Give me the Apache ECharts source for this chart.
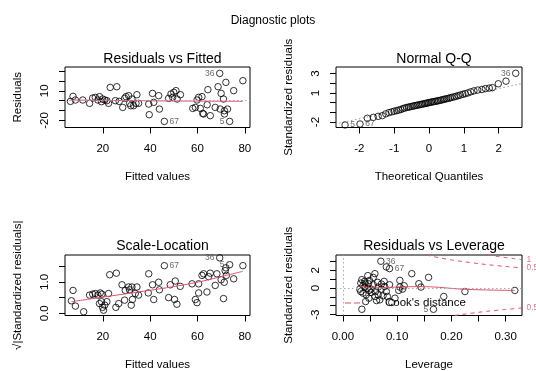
<!DOCTYPE html>
<html><head><meta charset="utf-8">
<script src="https://cdn.jsdelivr.net/npm/echarts@6/dist/echarts.min.js"></script>
<style>html,body{margin:0;padding:0;background:#fff}#c{width:536px;height:371px}</style>
</head><body><div id="c"></div>
<script>
// ---------- Panel 1: Residuals vs Fitted ----------
const fittedRF = [6.3,7.4,8.4,11.5,14.4,15.7,16.8,17.9,18.6,19.4,19.9,20.8,21.7,22.4,23.1,25.9,25.3,26.9,28.4,29.2,29.8,30.9,31.3,31.8,32.3,33.0,34.0,34.4,35.1,39.6,39.4,41.0,41.5,43.6,43.9,46.0,47.8,48.8,50.0,50.9,51.4,52.8,49.5,58.0,59.1,59.8,60.5,61.2,61.9,62.2,62.6,64.1,64.4,65.4,67.5,68.7,69.4,69.6,70.0,71.0,71.4,72.0,71.4,72.7,73.6,75.3,79.2];
const residRF = [-0.7,4.4,0.7,0.7,-2.7,2.7,3.4,0.7,4.1,-1.0,1.7,0.7,0.0,-2.7,13.5,14.2,0.0,-0.7,-6.8,2.4,4.1,5.1,-2.7,-5.1,1.7,-5.1,-2.7,6.1,-2.7,-14.2,-3.4,7.4,-1.7,5.1,-8.5,-21.0,2.4,6.8,8.5,10.2,1.7,6.1,3.4,-7.8,-6.8,0.7,3.4,-7.8,4.1,-12.9,-13.5,-4.1,11.2,-15.2,-6.8,14.2,27.7,-8.5,7.4,1.7,-10.2,18.6,-13.5,-8.5,-21.0,10.2,20.3];
const smoothRF = [[6.3,0.7],[25,0.2],[45,-0.2],[65,-0.5],[79.2,-0.6]];
const idsRF = [[56,'36'],[35,'67'],[64,'5']];
const xTicksRF = [20,40,60,80], yTicksRF = [-20,-10,0,10,20,30], yLabelsRF = [-20,10];

// ---------- Panel 2: Normal Q-Q ----------
const theoQ = [-2.41,-1.98,-1.77,-1.60,-1.46,-1.34,-1.24,-1.15,-1.07,-1.00,-0.93,-0.87,-0.81,-0.75,-0.70,-0.64,-0.59,-0.54,-0.49,-0.44,-0.40,-0.35,-0.31,-0.26,-0.22,-0.18,-0.13,-0.09,-0.05,-0.01,0.03,0.07,0.11,0.15,0.20,0.24,0.28,0.33,0.37,0.42,0.46,0.51,0.56,0.61,0.66,0.72,0.78,0.84,0.90,0.97,1.04,1.12,1.20,1.29,1.40,1.52,1.62,1.73,1.82,1.99,2.21,2.49];
const stdResQ = [-2.30,-2.20,-1.61,-1.51,-1.41,-1.34,-1.15,-1.02,-0.95,-0.88,-0.82,-0.76,-0.70,-0.62,-0.55,-0.50,-0.46,-0.42,-0.38,-0.34,-0.30,-0.27,-0.24,-0.20,-0.17,-0.14,-0.10,-0.07,-0.04,0.00,0.03,0.06,0.09,0.12,0.15,0.18,0.21,0.25,0.29,0.33,0.37,0.41,0.45,0.50,0.55,0.60,0.66,0.72,0.79,0.86,0.93,1.01,1.12,1.22,1.30,1.36,1.45,1.50,1.55,1.95,2.22,3.03];
const qqLine = [[-2.8,-2.28],[2.8,2.08]];
const idsQ = [[0,'5'],[1,'67'],[61,'36']];
const xTicksQ = [-2,-1,0,1,2], yTicksQ = [-2,-1,0,1,2,3], yLabelsQ = [-2,1,3];

// ---------- Panel 3: Scale-Location ----------
const fittedSL = [6.7,7.4,8.4,11.9,14.4,15.7,16.8,17.9,18.6,18.9,19.4,19.6,19.9,20.3,20.8,21.7,22.4,22.9,25.7,25.5,26.7,28.1,29.2,29.5,30.9,31.3,32.0,32.3,32.5,33.7,34.4,35.1,39.4,39.2,41.0,41.5,43.6,43.9,46.0,47.8,48.5,50.3,50.6,51.3,52.7,57.7,59.1,59.8,60.5,60.5,61.9,62.6,64.0,64.7,65.4,67.5,68.2,69.4,70.0,71.0,71.3,71.7,72.2,72.0,73.6,75.3,79.2];
const sqrtStdSL = [0.40,0.73,0.23,0.05,0.58,0.61,0.63,0.58,0.31,0.65,0.37,0.61,0.19,0.10,0.26,0.37,0.63,1.23,1.28,0.19,0.31,0.91,0.42,0.73,0.84,0.75,0.26,0.84,0.44,0.63,0.84,0.58,1.26,0.65,0.91,0.44,0.99,0.75,1.52,0.50,0.91,0.44,1.03,0.29,0.86,0.94,0.44,0.34,0.94,0.65,1.21,1.26,0.68,1.17,1.28,0.89,1.26,1.77,1.07,0.47,0.99,1.36,1.21,1.45,1.55,1.10,1.52];
const smoothSL = [[6.7,0.37],[20.3,0.52],[35,0.68],[49,0.84],[60.5,1.0],[69,1.15],[79.2,1.34]];
const idsSL = [[38,'67'],[57,'36'],[64,'5']];
const xTicksSL = [20,40,60,80], yTicksSL = [0,0.5,1,1.5], yLabelsSL = [0,1];

// ---------- Panel 4: Residuals vs Leverage ----------
const leverageRL = [0.070,0.080,0.086,0.035,0.167,0.127,0.158,0.105,0.140,0.144,0.105,0.110,0.103,0.113,0.186,0.225,0.317,0.096,0.059,0.046,0.056,0.064,0.071,0.077,0.086,0.040,0.033,0.037,0.031,0.033,0.037,0.043,0.042,0.048,0.052,0.056,0.049,0.045,0.060,0.065,0.062,0.068,0.074,0.080,0.071,0.035,0.041,0.047,0.065,0.076,0.059,0.052,0.082,0.090,0.040,0.048];
const stdResRL = [3.01,2.37,2.18,-2.40,-2.40,1.61,1.19,0.85,0.48,0.10,0.10,-0.13,-0.28,0.25,-0.96,-0.40,-0.28,-1.15,1.61,1.39,1.19,0.63,0.44,0.17,0.36,0.74,0.55,0.25,-0.13,-0.40,-0.58,-0.77,-1.53,-1.15,-0.13,0.36,0.85,-0.02,-0.40,-0.77,-1.42,-1.34,-0.89,-0.40,-0.13,0.93,0.55,0.48,0.10,0.74,-0.96,-0.51,-0.96,-1.64,0.10,-0.28];
const smoothRL = [[0.031,0.2],[0.06,0.02],[0.1,0.1],[0.14,0.15],[0.17,0.1],[0.225,-0.15],[0.317,-0.28]];
const cookUp05 = [[0.154,3.71],[0.16,3.62],[0.18,3.37],[0.2,3.16],[0.22,2.98],[0.25,2.74],[0.27,2.60],[0.3,2.42],[0.33,2.25]];
const cookUp1 = [[0.267,3.71],[0.285,3.54],[0.3,3.42],[0.315,3.30],[0.33,3.19]];
const cookLo05 = [[0.206,-3.10],[0.22,-2.98],[0.25,-2.74],[0.27,-2.60],[0.3,-2.42],[0.33,-2.25]];
const cookLabels = [[0.3385,3.19,'1'],[0.3385,2.25,'0.5'],[0.3385,-2.25,'0.5']];
const idsRL = [[0,'36'],[2,'67'],[4,'5']];
const xTicksRL = [0,0.05,0.1,0.15,0.2,0.25,0.3], xLabelsRL = [0,0.1,0.2,0.3], yTicksRL = [-3,-2,-1,0,1,2,3], yLabelsRL = [-3,0,2];

// ---------- build ----------
const FONT = "'Liberation Sans', Arial, Helvetica, sans-serif";
const RED = '#DF536B';
const TXT = {color:'#000', fontFamily:FONT, fontSize:11.5};

const gridsPx = [
  {left:65, top:67, width:185, height:60.5},
  {left:336, top:67, width:186, height:60.5},
  {left:65, top:255, width:185, height:60.5},
  {left:336, top:255, width:186, height:60.5}
];
const grid = gridsPx.map(g => Object.assign({show:true, borderColor:'#000', borderWidth:1, backgroundColor:'rgba(0,0,0,0)', containLabel:false, outerBoundsMode:'none'}, g));

function xAx(gi, min, max, ticks, labels, fmt, name){
  return {type:'value', gridIndex:gi, min:min, max:max, name:name, nameLocation:'middle', nameGap:43,
    nameTextStyle:Object.assign({}, TXT),
    axisLine:{show:false, onZero:false}, splitLine:{show:false},
    axisTick:{show:true, customValues:ticks, length:6, lineStyle:{color:'#000', width:1}},
    axisLabel:Object.assign({customValues:labels, formatter:fmt, margin:15}, TXT)};
}
function yAx(gi, min, max, ticks, labels, fmt, name){
  return {type:'value', gridIndex:gi, min:min, max:max, name:name, nameLocation:'middle', nameGap:41, nameRotate:90,
    nameTextStyle:Object.assign({}, TXT),
    axisLine:{show:false, onZero:false}, splitLine:{show:false},
    axisTick:{show:true, customValues:ticks, length:6, lineStyle:{color:'#000', width:1}},
    axisLabel:Object.assign({customValues:labels, formatter:fmt, rotate:90, margin:14}, TXT)};
}
const f0 = v => String(v);
const f1 = v => v.toFixed(1);
const f2 = v => v.toFixed(2);

const xAxis = [
  xAx(0, 4.0, 82.2, xTicksRF, xTicksRF, f0, 'Fitted values'),
  xAx(1, -2.67, 2.67, xTicksQ, xTicksQ, f0, 'Theoretical Quantiles'),
  xAx(2, 4.0, 82.2, xTicksSL, xTicksSL, f0, 'Fitted values'),
  xAx(3, -0.0127, 0.3302, xTicksRL, xLabelsRL, f2, 'Leverage')
];
const yAxis = [
  yAx(0, -27.2, 34.2, yTicksRF, yLabelsRF, f0, 'Residuals'),
  yAx(1, -2.56, 3.68, yTicksQ, yLabelsQ, f0, 'Standardized residuals'),
  yAx(2, -0.07, 1.86, yTicksSL, yLabelsSL, f1, '\u221A|Standardized residuals|'),
  yAx(3, -3.1, 3.71, yTicksRL, yLabelsRL, f0, 'Standardized residuals')
];

const idPos = {
  0:{'36':'left','67':'right','5':'left'},
  1:{'36':'left','67':'right','5':'right'},
  2:{'36':'left','67':'right','5':'left'},
  3:{'36':'right','67':'right','5':'left'}
};
function pts(gi, xs, ys, ids){
  const lab = {};
  ids.forEach(([i,t]) => lab[i] = t);
  const data = xs.map((x,i) => {
    const v = [x, ys[i]];
    if (lab[i] === undefined) return v;
    return {value:v, label:{show:true, formatter:lab[i], position:idPos[gi][lab[i]], distance:1.5,
      fontSize:8.5, color:'#444', fontFamily:FONT}};
  });
  return {type:'scatter', xAxisIndex:gi, yAxisIndex:gi, symbol:'circle', symbolSize:6.5, silent:true, z:3,
    itemStyle:{color:'rgba(0,0,0,0)', borderColor:'#000', borderWidth:1}, data:data};
}
function smoothLine(gi, d){
  return {type:'line', xAxisIndex:gi, yAxisIndex:gi, data:d, smooth:0.4, symbol:'none', silent:true, z:4,
    lineStyle:{color:RED, width:1}};
}
function refLines(gi, marks){
  return {type:'line', xAxisIndex:gi, yAxisIndex:gi, data:[], silent:true, z:1,
    markLine:{silent:true, symbol:'none', label:{show:false}, lineStyle:{color:'#aaa', type:[1.5,2.5], width:1}, data:marks}};
}
function cook(d){
  return {type:'line', name:"Cook's distance", xAxisIndex:3, yAxisIndex:3, data:d, smooth:0.3, symbol:'none', silent:true, z:2,
    clip:true, lineStyle:{color:RED, width:1, type:[4,4]}, itemStyle:{color:RED}};
}

const series = [
  refLines(0, [{yAxis:0}]),
  pts(0, fittedRF, residRF, idsRF),
  smoothLine(0, smoothRF),
  {type:'line', xAxisIndex:1, yAxisIndex:1, data:qqLine, symbol:'none', silent:true, z:1, clip:true,
    lineStyle:{color:'#999', width:1, type:[1.5,2.5]}},
  pts(1, theoQ, stdResQ, idsQ),
  pts(2, fittedSL, sqrtStdSL, idsSL),
  smoothLine(2, smoothSL),
  refLines(3, [{yAxis:0},{xAxis:0}]),
  cook(cookUp05), cook(cookUp1), cook(cookLo05),
  pts(3, leverageRL, stdResRL, idsRL),
  smoothLine(3, smoothRL),
  {type:'scatter', xAxisIndex:3, yAxisIndex:3, symbolSize:0, clip:false, silent:true,
    data:cookLabels.map(c => ({value:[c[0], c[1]], label:{show:true, formatter:c[2], position:'right', distance:0,
      fontSize:8.5, color:RED, fontFamily:FONT}}))}
];

const titleStyle = {color:'#000', fontFamily:FONT, fontSize:14, fontWeight:'normal'};
const title = [
  {text:'Diagnostic plots', left:268, top:10, textAlign:'center', textStyle:{color:'#000', fontFamily:FONT, fontSize:12, fontWeight:'normal'}},
  {text:'Residuals vs Fitted', left:157.5, top:47, textAlign:'center', textStyle:titleStyle},
  {text:'Normal Q-Q', left:429, top:47, textAlign:'center', textStyle:titleStyle},
  {text:'Scale-Location', left:157.5, top:234, textAlign:'center', textStyle:titleStyle},
  {text:'Residuals vs Leverage', left:429, top:234, textAlign:'center', textStyle:titleStyle}
];

const chart = echarts.init(document.getElementById('c'), null, {renderer:'canvas'});
chart.setOption({
  animation:false,
  backgroundColor:'#fff',
  title:title,
  grid:grid, xAxis:xAxis, yAxis:yAxis, series:series,
  legend:{data:[{name:"Cook's distance", icon:'path://M0 0H6V1H0Z M9 0H15V1H9Z'}], left:345, top:297,
    itemWidth:15, itemHeight:1, selectedMode:false, padding:0,
    formatter:'{t|{name}}',
    textStyle:{color:'#000', fontFamily:FONT, fontSize:11.5,
      rich:{t:{color:'#000', fontFamily:FONT, fontSize:11.5, padding:[0,0,0,20]}}}}
});
</script></body></html>
